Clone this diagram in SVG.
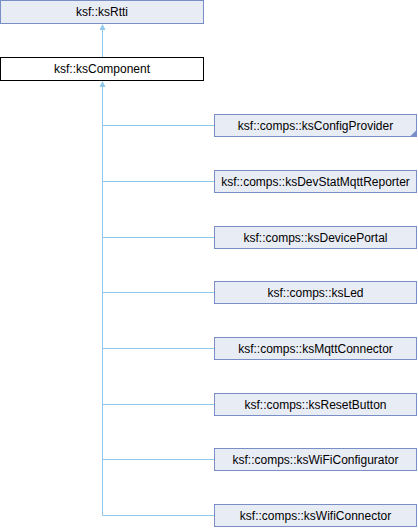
<svg xmlns="http://www.w3.org/2000/svg" width="418" height="528" viewBox="0 0 418 528">
<style>
.n{fill:#e8ecf5;stroke:#7a8ec6;stroke-width:1}
.b{fill:#ffffff;stroke:#000000;stroke-width:1}
.t{font-family:"Liberation Sans",Arial,sans-serif;font-size:12px;fill:#000;text-anchor:middle}
.e{fill:none;stroke:#8ec8ec;stroke-width:1}
.a{fill:#8ec8ec}
</style>
<rect width="418" height="528" fill="#ffffff"/>
<g id="connectors">
<path class="e" d="M102.5,86 V515.5"/>
<path class="e" d="M102.5,125.5 H214.5 M102.5,181.5 H214.5 M102.5,237.5 H214.5 M102.5,292.5 H214.5 M102.5,348.5 H214.5 M102.5,404.5 H214.5 M102.5,459.5 H214.5 M102.5,515.5 H214.5"/>
<path class="e" d="M102.5,57 V29"/>
<path class="a" d="M99.5,30 L102.5,24 L105.5,30 Z"/>
<path class="a" d="M99.5,87 L102.5,81 L105.5,87 Z"/>
</g>
<g id="ksRtti"><rect class="n" x="0.5" y="0.5" width="203" height="23"/><text class="t" x="102" y="16">ksf::ksRtti</text></g>
<g id="ksComponent"><rect class="b" x="0.5" y="57.5" width="203" height="23"/><text class="t" x="102" y="73">ksf::ksComponent</text></g>
<g id="ksConfigProvider"><rect class="n" x="214.5" y="114.5" width="202" height="22"/><path d="M416.5,130 V136.5 H410 Z" fill="#7a8ec6"/><text class="t" x="315.5" y="130">ksf::comps::ksConfigProvider</text></g>
<g id="ksDevStatMqttReporter"><rect class="n" x="214.5" y="170.5" width="202" height="22"/><text class="t" x="315.5" y="186">ksf::comps::ksDevStatMqttReporter</text></g>
<g id="ksDevicePortal"><rect class="n" x="214.5" y="226.5" width="202" height="22"/><text class="t" x="315.5" y="242">ksf::comps::ksDevicePortal</text></g>
<g id="ksLed"><rect class="n" x="214.5" y="281.5" width="202" height="22"/><text class="t" x="315.5" y="297">ksf::comps::ksLed</text></g>
<g id="ksMqttConnector"><rect class="n" x="214.5" y="337.5" width="202" height="22"/><text class="t" x="315.5" y="353">ksf::comps::ksMqttConnector</text></g>
<g id="ksResetButton"><rect class="n" x="214.5" y="393.5" width="202" height="22"/><text class="t" x="315.5" y="409">ksf::comps::ksResetButton</text></g>
<g id="ksWiFiConfigurator"><rect class="n" x="214.5" y="448.5" width="202" height="22"/><text class="t" x="315.5" y="464">ksf::comps::ksWiFiConfigurator</text></g>
<g id="ksWifiConnector"><rect class="n" x="214.5" y="504.5" width="202" height="22"/><text class="t" x="315.5" y="520">ksf::comps::ksWifiConnector</text></g>
</svg>
